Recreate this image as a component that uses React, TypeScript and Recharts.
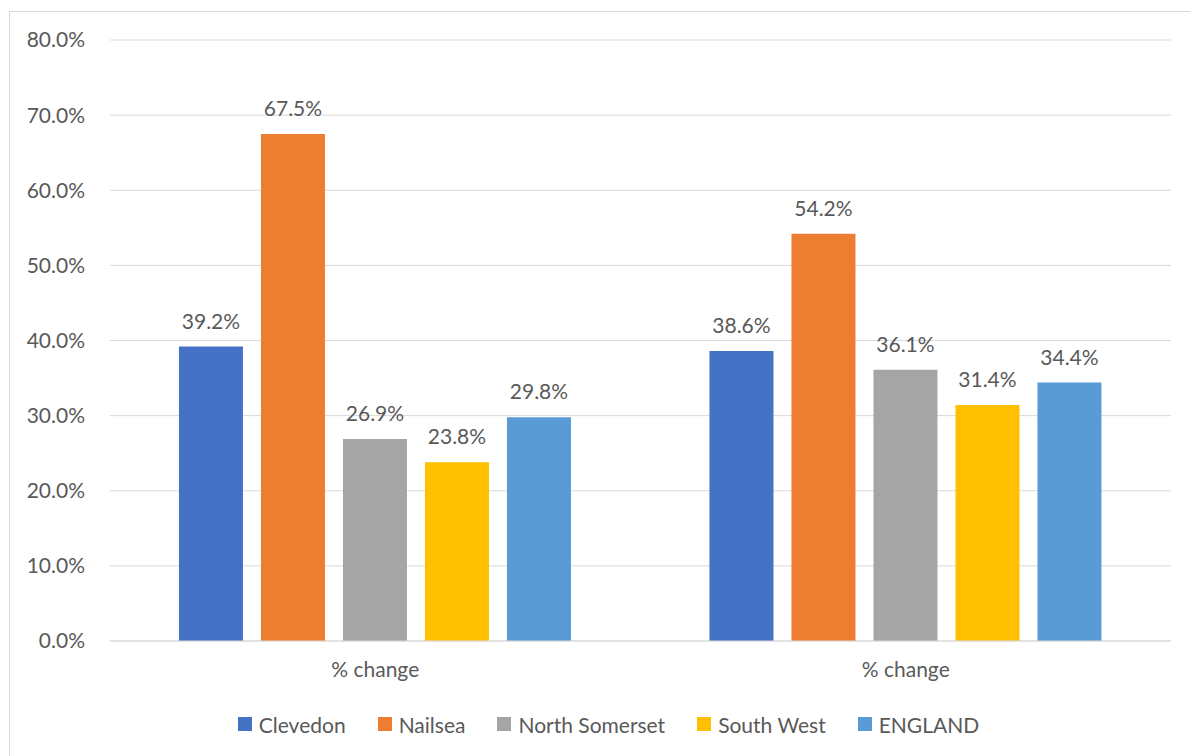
import { BarChart, Bar, XAxis, YAxis, CartesianGrid, Legend, LabelList } from "recharts";

const categories = ["% change", "% change"];
const seriesNames = ["Clevedon", "Nailsea", "North Somerset", "South West", "ENGLAND"];
const seriesColors = ["#4472C4", "#ED7D31", "#A5A5A5", "#FFC000", "#5B9BD5"];
const clevedon = [39.2, 38.6];
const nailsea = [67.5, 54.2];
const northSomerset = [26.9, 36.1];
const southWest = [23.8, 31.4];
const england = [29.8, 34.4];
const yTicks = [0, 10, 20, 30, 40, 50, 60, 70, 80];

const seriesValues = [clevedon, nailsea, northSomerset, southWest, england];

const data = categories.map((name, i) => {
  const row: Record<string, string | number> = { name };
  seriesNames.forEach((s, j) => {
    row[s] = seriesValues[j][i];
  });
  return row;
});

const font = "Lato, 'Liberation Sans', sans-serif";
const textColor = "#595959";
const fontSize = 21;
const fmt = (v: number) => `${Number(v).toFixed(1)}%`;

function LegendContent() {
  return (
    <div style={{ height: 56 }}>
      <div
        style={{
          height: 46,
          display: "flex",
          justifyContent: "center",
          alignItems: "center",
          paddingLeft: 16,
          boxSizing: "border-box",
          fontFamily: font,
          fontSize,
          color: textColor,
        }}
      >
        {seriesNames.map((s, i) => (
          <div key={s} style={{ display: "flex", alignItems: "center", marginRight: i < seriesNames.length - 1 ? 32 : 0 }}>
            <span style={{ width: 14, height: 14, background: seriesColors[i], display: "inline-block", marginRight: 7 }} />
            <span>{s}</span>
          </div>
        ))}
      </div>
    </div>
  );
}

export default function App() {
  return (
    <div
      style={{
        position: "absolute",
        left: 9,
        top: 11,
        borderTop: "1px solid #d9d9d9",
        borderLeft: "1px solid #d9d9d9",
        width: 1181,
        height: 745,
        background: "#fff",
      }}
    >
      <BarChart
        width={1181}
        height={745}
        data={data}
        margin={{ top: 28, right: 20, bottom: 0, left: 20 }}
        barCategoryGap="13%"
        barGap={18}
      >
        <CartesianGrid vertical={false} stroke="#d9d9d9" />
        <XAxis
          dataKey="name"
          height={60}
          tickLine={false}
          tickSize={0}
          tickMargin={21}
          axisLine={{ stroke: "#d9d9d9" }}
          tick={{ fill: textColor, fontSize, fontFamily: font }}
        />
        <YAxis
          width={80}
          domain={[0, 80]}
          ticks={yTicks}
          tickFormatter={fmt}
          axisLine={false}
          tickLine={false}
          tickSize={0}
          tickMargin={25}
          tick={{ fill: textColor, fontSize, fontFamily: font }}
        />
        <Legend verticalAlign="bottom" content={<LegendContent />} />
        {seriesNames.map((s, i) => (
          <Bar key={s} dataKey={s} fill={seriesColors[i]} isAnimationActive={false}>
            <LabelList
              dataKey={s}
              position="top"
              offset={18}
              formatter={(v: any) => fmt(v)}
              style={{ fill: textColor, fontSize, fontFamily: font }}
            />
          </Bar>
        ))}
      </BarChart>
    </div>
  );
}
